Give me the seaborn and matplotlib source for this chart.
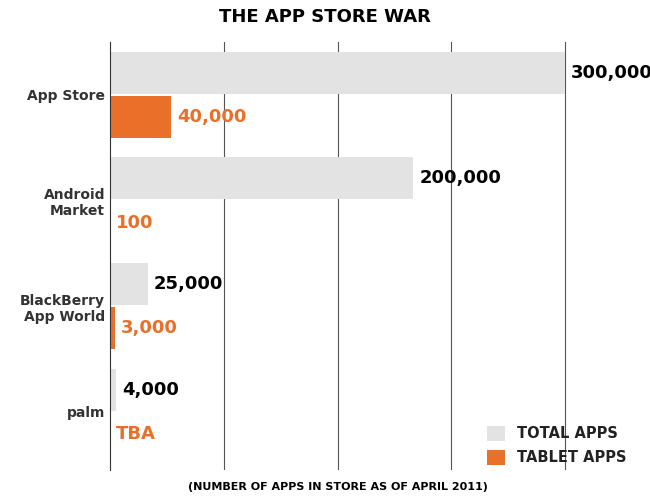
import matplotlib
matplotlib.use("Agg")
import matplotlib.pyplot as plt
import seaborn as sns
import pandas as pd

stores = ["App Store", "Android\nMarket", "BlackBerry\nApp World", "palm"]
total_apps = [300000, 200000, 25000, 4000]
tablet_apps = [40000, 100, 3000, 0]
tablet_labels = ["40,000", "100", "3,000", "TBA"]

df = pd.DataFrame({
    "store": stores * 2,
    "apps": total_apps + tablet_apps,
    "kind": ["TOTAL APPS"] * 4 + ["TABLET APPS"] * 4,
})

FONT = "DejaVu Sans"
GREY = "#e3e3e3"
ORANGE = "#ea6f28"

fig = plt.figure(figsize=(6.5, 5.0), dpi=100)
ax = fig.add_axes([110 / 650, 30 / 500, 540 / 650, 428 / 500])

sns.barplot(data=df, y="store", x="apps", hue="kind", orient="h",
            palette={"TOTAL APPS": GREY, "TABLET APPS": ORANGE}, saturation=1,
            width=0.84, gap=0.05, ax=ax)

ax.set_xlim(0, 300000 * 540 / 455)
ax.set_ylim(3.55, -0.5)
ax.set_xticks([75000, 150000, 225000, 300000])
ax.set_xticklabels([])
ax.tick_params(length=0)
ax.grid(axis="x", color="#555555", linewidth=0.8)
ax.set_axisbelow(True)
for s in ["top", "right", "bottom"]:
    ax.spines[s].set_visible(False)
ax.spines["left"].set_color("#333333")
ax.set_xlabel("")
ax.set_ylabel("")
ax.set_yticklabels(stores, fontfamily=FONT, fontsize=10, fontweight="bold", color="#333333")

off = 0.84 / 4
for i in range(4):
    ax.text(total_apps[i] + 4000, i - off, f"{total_apps[i]:,}", va="center",
            fontfamily=FONT, fontsize=13, fontweight="bold", color="black")
    ax.text(tablet_apps[i] + 4000, i + off, tablet_labels[i], va="center",
            fontfamily=FONT, fontsize=13, fontweight="bold", color=ORANGE)

leg = ax.legend(loc="lower right", frameon=False, handlelength=1.2, handleheight=1.2,
                prop={"family": FONT, "size": 10.5, "weight": "bold"},
                bbox_to_anchor=(0.98, -0.02), labelspacing=0.6)
for t in leg.get_texts():
    t.set_color("#222222")

fig.text(0.5, 0.955, "THE APP STORE WAR", ha="center", fontfamily=FONT,
         fontsize=13, fontweight="bold")
fig.text(0.52, 0.02, "(NUMBER OF APPS IN STORE AS OF APRIL 2011)", ha="center",
         fontfamily=FONT, fontsize=8, fontweight="bold")

fig.savefig("out.png", dpi=100)
